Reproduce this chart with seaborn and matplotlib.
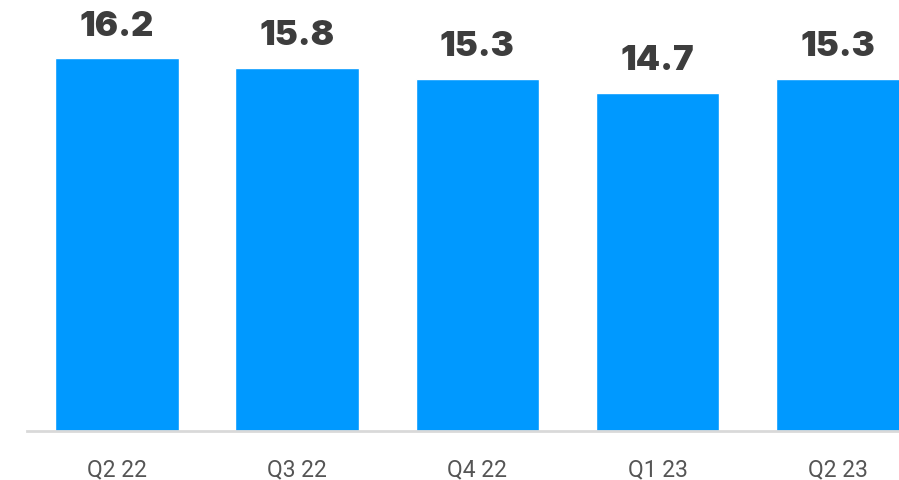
import matplotlib
matplotlib.use("Agg")
import matplotlib.pyplot as plt
import seaborn as sns
import pandas as pd

categories = ["Q2 22", "Q3 22", "Q4 22", "Q1 23", "Q2 23"]
values = [16.2, 15.8, 15.3, 14.7, 15.3]
labels = ["16.2", "15.8", "15.3", "14.7", "15.3"]

sns.set_style("white")
plt.rcParams['font.family'] = ['Roboto', 'DejaVu Sans']

W, H = 899, 481
fig = plt.figure(figsize=(W / 100, H / 100), dpi=100)
ax = fig.add_axes([27 / W, (H - 432) / H, (899 - 27) / W, 432 / H])

df = pd.DataFrame({"cat": categories, "val": values})
sns.barplot(data=df, x="cat", y="val", color="#0099FF", saturation=1,
            width=0.687, ax=ax)

ax.set_xlim(-0.5, 4.34)
ax.set_ylim(0, 18.78)
ax.set_xlabel("")
ax.set_ylabel("")
ax.set_yticks([])
for s in ["top", "left", "right"]:
    ax.spines[s].set_visible(False)
ax.spines["bottom"].set_color("#d9d9d9")
ax.spines["bottom"].set_linewidth(2)
ax.tick_params(axis="x", length=0, pad=19, labelsize=16.5, labelcolor="#555555")

for i, (v, lab) in enumerate(zip(values, labels)):
    ax.annotate(lab, (i, v), xytext=(0, 12), textcoords="offset points",
                ha="center", va="bottom", fontsize=25, fontweight="black",
                color="#3d3d3d", family=["Inter", "DejaVu Sans"])

fig.savefig("out.png", dpi=100, facecolor="white")
